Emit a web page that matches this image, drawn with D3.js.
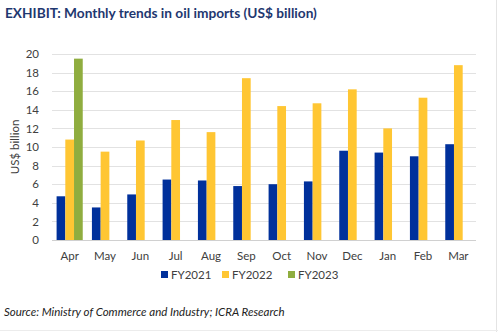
<!DOCTYPE html>
<html>
<head>
<meta charset="utf-8">
<script src="https://cdn.jsdelivr.net/npm/d3@7"></script>
<style>
  body { margin: 0; background: #fff; }
  svg { display: block; font-family: Lato, "Open Sans", sans-serif; }
</style>
</head>
<body>
<svg id="chart" width="498" height="332"></svg>
<script>
// monthly oil imports, US$ billion
var months = ['Apr','May','Jun','Jul','Aug','Sep','Oct','Nov','Dec','Jan','Feb','Mar'];
var seriesNames = ['FY2021','FY2022','FY2023'];
var fy2021 = [4.7, 3.5, 4.9, 6.5, 6.4, 5.8, 6.0, 6.3, 9.6, 9.4, 9.0, 10.3];
var fy2022 = [10.8, 9.5, 10.7, 12.9, 11.6, 17.4, 14.4, 14.7, 16.2, 12.0, 15.3, 18.8];
var fy2023 = [19.5, null, null, null, null, null, null, null, null, null, null, null];
var yTicks = [0, 2, 4, 6, 8, 10, 12, 14, 16, 18, 20];

var colors = {FY2021: '#00309b', FY2022: '#ffc633', FY2023: '#8fad3f'};

var svg = d3.select('#chart');

var margin = {left: 52, right: 22, top: 54, bottom: 92};
var width = 498 - margin.left - margin.right;
var height = 332 - margin.top - margin.bottom;

// frame lines at right and bottom edge
svg.append('line').attr('x1', 496.5).attr('x2', 496.5).attr('y1', 0).attr('y2', 332)
   .attr('stroke', '#e4e4e4');
svg.append('line').attr('x1', 0).attr('x2', 498).attr('y1', 330.5).attr('y2', 330.5)
   .attr('stroke', '#ececec');

svg.append('text')
   .attr('x', 5).attr('y', 18)
   .attr('font-size', 13.7).attr('font-weight', 'bold')
   .attr('fill', '#1f3870')
   .text('EXHIBIT: Monthly trends in oil imports (US$ billion)');

var g = svg.append('g')
           .attr('transform', 'translate(' + margin.left + ',' + margin.top + ')');

var x = d3.scaleBand().domain(months).range([0, width]).paddingInner(0.26).paddingOuter(0.13);
var xs = d3.scaleBand().domain(seriesNames).range([0, x.bandwidth()]);
var y = d3.scaleLinear().domain([0, 20]).range([height, 0]);

// gridlines
g.selectAll('.grid').data(yTicks).enter()
 .append('line')
 .attr('class', 'grid')
 .attr('x1', 0).attr('x2', width)
 .attr('y1', d => Math.round(y(d)) + 0.5).attr('y2', d => Math.round(y(d)) + 0.5)
 .attr('stroke', d => d === 0 ? '#d0d0d0' : '#e2e2e2');

var yAxis = d3.axisLeft(y).tickValues(yTicks).tickSize(0).tickPadding(13);
g.append('g').attr('class', 'y axis').call(yAxis)
 .call(s => s.select('.domain').remove())
 .selectAll('text').attr('font-size', 11.5).attr('fill', '#404040')
 .attr('font-family', 'Lato, sans-serif');

var xAxis = d3.axisBottom(x).tickSize(0).tickPadding(12);
g.append('g').attr('class', 'x axis')
 .attr('transform', 'translate(0,' + height + ')')
 .call(xAxis)
 .call(s => s.select('.domain').remove())
 .selectAll('text').attr('font-size', 11.5).attr('fill', '#404040')
 .attr('font-family', 'Lato, sans-serif');

svg.append('text')
   .attr('transform', 'translate(19,' + (margin.top + height / 2) + ') rotate(-90)')
   .attr('text-anchor', 'middle')
   .attr('font-size', 11.5).attr('fill', '#404040')
   .text('US$ billion');

var rows = months.map((m, i) => ({
  month: m,
  values: [
    {key: 'FY2021', value: fy2021[i]},
    {key: 'FY2022', value: fy2022[i]},
    {key: 'FY2023', value: fy2023[i]}
  ].filter(v => v.value != null)
}));

var groups = g.selectAll('.month').data(rows).enter()
  .append('g').attr('class', 'month')
  .attr('transform', d => 'translate(' + x(d.month) + ',0)');

groups.selectAll('rect').data(d => d.values).enter()
  .append('rect')
  .attr('x', d => xs(d.key))
  .attr('width', xs.bandwidth())
  .attr('y', d => y(d.value))
  .attr('height', d => height - y(d.value))
  .attr('fill', d => colors[d.key]);

// legend
var legendX = [161, 222, 288];
var legend = svg.selectAll('.legend').data(seriesNames).enter()
  .append('g').attr('class', 'legend')
  .attr('transform', (d, i) => 'translate(' + legendX[i] + ',271)');
legend.append('rect').attr('width', 7).attr('height', 7).attr('fill', d => colors[d]);
legend.append('text').attr('x', 10).attr('y', 8)
  .attr('font-size', 11.5).attr('fill', '#404040').text(d => d);

svg.append('text')
   .attr('x', 4).attr('y', 316)
   .attr('font-size', 11.5).attr('font-style', 'italic').attr('fill', '#222')
   .text('Source: Ministry of Commerce and Industry; ICRA Research');
</script>
</body>
</html>
